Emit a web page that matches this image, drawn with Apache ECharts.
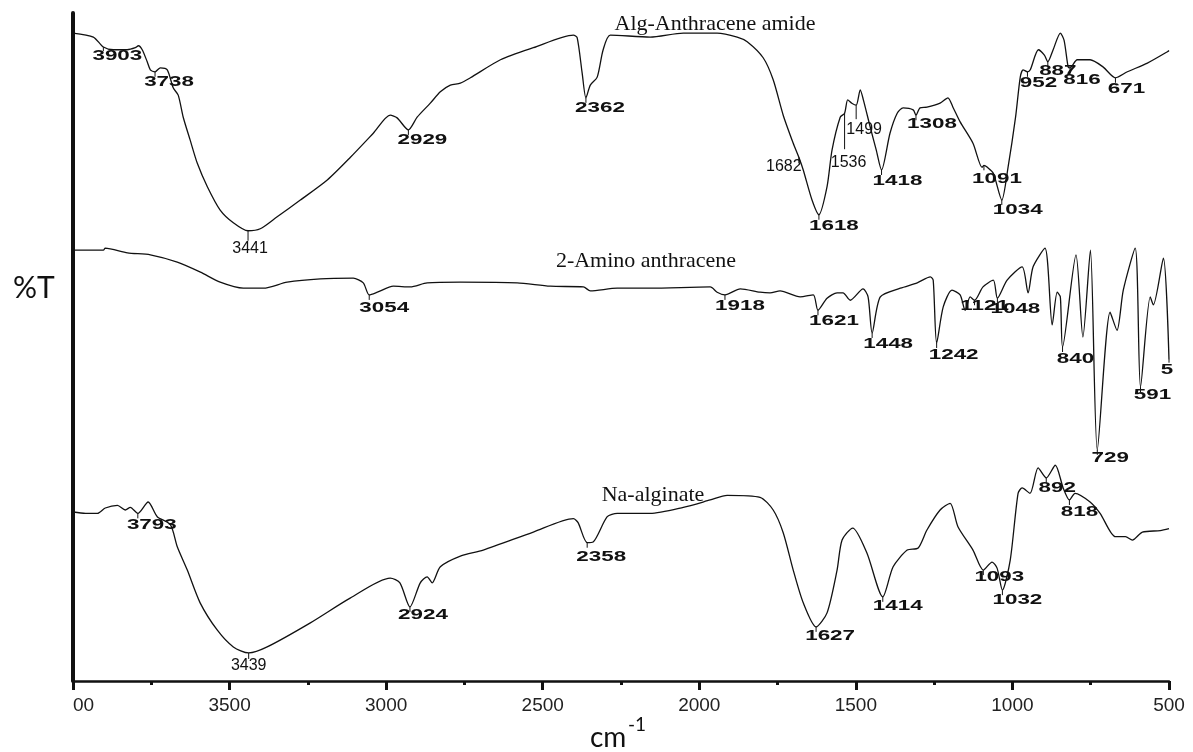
<!DOCTYPE html>
<html>
<head>
<meta charset="utf-8">
<script src="https://cdn.jsdelivr.net/npm/echarts@6/dist/echarts.min.js"></script>
<style>
  html, body { margin: 0; padding: 0; background: #fff; }
  #chart { width: 1193px; height: 752px; }
</style>
</head>
<body>
<div id="chart"></div>
<script>
// FTIR spectra drawn as a stacked plot (%T with vertical offsets), wavenumber in cm-1.

// Alg-Anthracene amide
const amideWavenumber = [4000, 3935, 3903, 3871, 3827, 3801, 3791, 3779, 3763, 3753, 3738, 3721, 3699, 3680, 3664, 3648, 3626, 3603, 3571, 3530, 3488, 3441, 3402, 3348, 3274, 3188, 3114, 3041, 2987, 2965, 2929, 2901, 2859, 2827, 2795, 2763, 2731, 2635, 2530, 2402, 2390, 2374, 2362, 2348, 2326, 2307, 2284, 2157, 2051, 1943, 1879, 1847, 1796, 1764, 1732, 1700, 1682, 1668, 1640, 1618, 1592, 1576, 1550, 1536, 1526, 1513, 1499, 1486, 1476, 1454, 1435, 1418, 1391, 1368, 1349, 1317, 1308, 1295, 1273, 1231, 1206, 1190, 1167, 1126, 1097, 1091, 1080, 1061, 1034, 1014, 990, 975, 966, 952, 943, 917, 898, 887, 870, 847, 835, 822, 816, 793, 752, 710, 671, 633, 569, 505, 500];
const amideTransmittance = [97.0, 96.4, 94.9, 94.5, 94.5, 94.8, 95.1, 94.5, 92.7, 91.5, 91.2, 91.8, 91.5, 88.8, 87.7, 84.4, 81.0, 77.5, 74.0, 70.5, 68.6, 67.4, 67.7, 69.5, 72.0, 75.0, 78.4, 82.0, 84.7, 84.3, 82.5, 84.4, 86.5, 88.2, 89.2, 89.5, 90.3, 93.0, 94.8, 96.7, 96.3, 91.0, 87.3, 89.2, 90.4, 94.5, 96.7, 96.4, 97.0, 97.0, 96.4, 95.7, 93.3, 90.0, 84.7, 80.5, 78.4, 76.5, 72.0, 69.8, 74.0, 79.5, 84.4, 85.0, 87.0, 86.5, 86.2, 88.5, 87.0, 82.9, 79.5, 76.5, 82.0, 85.0, 85.8, 85.5, 84.7, 85.8, 85.9, 86.5, 87.3, 85.9, 83.7, 80.5, 76.9, 77.2, 76.9, 76.0, 72.0, 76.9, 84.4, 90.4, 91.5, 91.2, 91.5, 94.5, 93.7, 92.7, 94.5, 97.0, 95.9, 91.9, 91.8, 93.0, 93.0, 91.9, 90.3, 91.2, 92.5, 94.2, 94.4];
const amidePeaks = [[3903, '3903'], [3738, '3738'], [3441, '3441'], [2929, '2929'], [2362, '2362'], [1682, '1682'], [1618, '1618'], [1536, '1536'], [1499, '1499'], [1418, '1418'], [1308, '1308'], [1091, '1091'], [1034, '1034'], [952, '952'], [887, '887'], [816, '816'], [671, '671']];

// 2-Amino anthracene
const aminoWavenumber = [4000, 3903, 3897, 3826, 3753, 3667, 3593, 3530, 3456, 3392, 3316, 3210, 3105, 3073, 3054, 3028, 2977, 2923, 2869, 2763, 2582, 2476, 2370, 2348, 2262, 2157, 1965, 1943, 1918, 1869, 1806, 1774, 1742, 1678, 1636, 1621, 1592, 1560, 1541, 1518, 1477, 1461, 1448, 1422, 1358, 1304, 1262, 1253, 1242, 1221, 1193, 1167, 1151, 1135, 1121, 1094, 1061, 1048, 1017, 969, 950, 934, 896, 873, 857, 847, 840, 797, 775, 751, 729, 688, 666, 646, 608, 591, 560, 550, 518, 500];
const aminoTransmittance = [64.5, 64.5, 64.8, 64.1, 63.8, 62.7, 61.2, 59.7, 58.8, 58.8, 59.7, 60.2, 60.3, 59.6, 57.8, 58.2, 59.1, 59.0, 59.6, 59.7, 59.6, 59.1, 59.0, 58.4, 58.8, 58.8, 59.0, 58.2, 57.8, 58.7, 58.2, 58.1, 58.4, 57.5, 57.8, 55.5, 57.3, 58.1, 58.1, 57.0, 58.7, 57.5, 52.1, 57.5, 58.8, 59.6, 60.5, 60.0, 50.6, 56.0, 58.5, 57.8, 55.5, 57.5, 57.0, 59.0, 60.0, 57.3, 60.0, 62.0, 58.1, 62.0, 64.8, 53.3, 58.2, 57.5, 50.0, 63.8, 51.5, 64.5, 34.6, 55.2, 52.5, 58.5, 64.8, 44.0, 57.5, 56.3, 63.3, 48.1];
const aminoPeaks = [[3054, '3054'], [1918, '1918'], [1621, '1621'], [1448, '1448'], [1242, '1242'], [1121, '1121'], [1048, '1048'], [840, '840'], [729, '729'], [591, '591'], [500, '5']];

// Na-alginate
const alginateWavenumber = [4000, 3960, 3922, 3897, 3858, 3833, 3817, 3793, 3760, 3731, 3689, 3667, 3635, 3594, 3539, 3488, 3439, 3380, 3242, 3115, 2987, 2956, 2924, 2891, 2869, 2853, 2827, 2763, 2690, 2530, 2402, 2387, 2358, 2339, 2294, 2262, 2157, 2051, 1965, 1911, 1806, 1764, 1732, 1700, 1668, 1627, 1592, 1560, 1544, 1510, 1465, 1414, 1381, 1336, 1301, 1273, 1231, 1199, 1174, 1126, 1093, 1065, 1049, 1032, 1007, 982, 969, 944, 918, 892, 863, 838, 818, 800, 752, 720, 671, 639, 617, 585, 528, 500];
const alginateTransmittance = [25.3, 25.1, 25.1, 25.9, 26.3, 25.6, 26.0, 25.1, 26.8, 24.6, 23.4, 20.1, 16.6, 11.7, 7.6, 5.1, 4.2, 5.1, 8.7, 12.4, 15.4, 14.7, 11.1, 14.7, 15.6, 14.7, 17.1, 18.7, 19.6, 22.3, 24.3, 23.7, 20.7, 20.8, 24.6, 25.1, 25.1, 26.0, 27.1, 27.8, 27.5, 25.6, 22.2, 16.6, 11.7, 8.1, 10.2, 16.6, 21.1, 22.9, 19.2, 12.6, 17.1, 19.6, 19.9, 22.6, 25.6, 26.6, 23.1, 19.6, 16.6, 17.8, 16.9, 13.6, 18.1, 28.1, 28.9, 28.1, 31.9, 30.4, 32.3, 28.9, 27.1, 28.1, 26.8, 25.1, 21.6, 21.6, 21.1, 22.3, 22.5, 22.8];
const alginatePeaks = [[3793, '3793'], [3439, '3439'], [2924, '2924'], [2358, '2358'], [1627, '1627'], [1414, '1414'], [1093, '1093'], [1032, '1032'], [892, '892'], [818, '818']];

// Placement of each peak annotation relative to its point on the curve (px).
const LABEL_DEFAULT = { dx: 14, dy: 10, len: 5, kind: 'bold' };
const amideLabelLayout = {
  3903: { dy: 9, len: 4 }, 3441: { dx: 2, dy: 18, len: 10, kind: 'reg' },
  1682: { dx: -15, dy: 9, len: 6, kind: 'reg' }, 1618: { dx: 15, dy: 11 },
  1536: { dx: 4, dy: 49, len: 36, kind: 'reg' }, 1499: { dx: 8, dy: 24, len: 14, kind: 'reg' },
  1418: { dx: 16, dy: 11 }, 1308: { dx: 16, dy: 9 }, 1091: { dx: 13, dy: 14 },
  1034: { dx: 16 }, 952: { dx: 11, dy: 11 }, 887: { dx: 10, dy: 9 },
  816: { dx: 12, dy: 12 }, 671: { dx: 11, dy: 11 }
};
const aminoLabelLayout = {
  3054: { dx: 15, dy: 13 }, 1918: { dx: 15, dy: 11 }, 1621: { dx: 16, dy: 11 },
  1448: { dx: 16, dy: 11 }, 1242: { dx: 17, dy: 12 }, 1121: { dx: 10, dy: 6 },
  1048: { dx: 18, dy: 11 }, 840: { dx: 13, dy: 12 }, 729: { dx: 13, dy: 8 },
  591: { dx: 12, dy: 8 }, 500: { dx: -2, dy: 10, len: 3 }
};
const alginateLabelLayout = {
  3793: { dy: 12 }, 3439: { dx: 0, dy: 13, len: 6, kind: 'reg' }, 2924: { dx: 13, dy: 8 },
  2358: { dy: 14 }, 1627: { dy: 9 }, 1414: { dx: 15, dy: 9 }, 1093: { dx: 16, dy: 7 },
  1032: { dx: 15 }, 892: { dx: 11 }, 818: { dx: 10, dy: 12 }
};

const INK = '#111';

function zip(xs, ys) { return xs.map((x, i) => [x, ys[i]]); }

function spectrumSeries(name, xs, ys) {
  return {
    name, type: 'line', data: zip(xs, ys), showSymbol: false, symbol: 'none',
    smooth: 0.25,
    lineStyle: { color: INK, width: 1.3 }, silent: true, z: 2
  };
}

function peakSeries(name, xs, ys, peaks, layout) {
  const lookup = new Map(xs.map((x, i) => [x, ys[i]]));
  const data = peaks.map(([wn]) => [wn, lookup.get(wn)]);
  return {
    name, type: 'custom', coordinateSystem: 'cartesian2d', data, silent: true, z: 3,
    encode: { x: 0, y: 1 },
    renderItem(params, api) {
      const [wn, label] = peaks[params.dataIndex];
      const lay = Object.assign({}, LABEL_DEFAULT, layout[wn] || {});
      const p = api.coord([api.value(0), api.value(1)]);
      const bold = lay.kind === 'bold';
      return {
        type: 'group',
        children: [
          { type: 'line', shape: { x1: p[0], y1: p[1], x2: p[0], y2: p[1] + lay.len },
            style: { stroke: INK, lineWidth: 1 } },
          { type: 'text', x: p[0] + lay.dx, y: p[1] + lay.dy, scaleX: bold ? 1.6 : 1,
            style: { text: label, fontFamily: '"Liberation Sans", Arial, sans-serif',
                     fontSize: bold ? 14 : 16, fontWeight: bold ? 'bold' : 'normal', fill: INK,
                     textAlign: 'center', textVerticalAlign: 'middle',
                     align: 'center', verticalAlign: 'middle' } }
        ]
      };
    }
  };
}

const chart = echarts.init(document.getElementById('chart'), null, { renderer: 'canvas' });

const titleFont = { fontFamily: '"Liberation Serif", "Times New Roman", serif', fontSize: 22, fill: INK };

chart.setOption({
  animation: false,
  backgroundColor: '#fff',
  grid: { left: 73, right: 24, top: 13, bottom: 71, containLabel: false, outerBoundsMode: 'none' },
  xAxis: {
    type: 'value', min: 500, max: 4000, interval: 500, inverse: true,
    axisLine: { show: true, onZero: false, lineStyle: { color: INK, width: 2.5 } },
    axisTick: { show: true, length: 9, lineStyle: { color: INK, width: 3 } },
    minorTick: { show: true, splitNumber: 2, length: 4, lineStyle: { color: INK, width: 3 } },
    splitLine: { show: false }, minorSplitLine: { show: false },
    axisLabel: {
      margin: 15, color: '#222', fontSize: 19, fontFamily: '"Liberation Sans", Arial, sans-serif',
      formatter: v => (v === 4000 ? '{cut|00}' : String(v)),
      rich: { cut: { padding: [0, 0, 0, 21], fontSize: 19, color: '#222',
                     fontFamily: '"Liberation Sans", Arial, sans-serif' } }
    }
  },
  yAxis: {
    type: 'value', min: 0, max: 100,
    axisLine: { show: true, onZero: false, lineStyle: { color: INK, width: 4 } },
    axisTick: { show: false }, axisLabel: { show: false }, splitLine: { show: false }
  },
  series: [
    spectrumSeries('Alg-Anthracene amide', amideWavenumber, amideTransmittance),
    spectrumSeries('2-Amino anthracene', aminoWavenumber, aminoTransmittance),
    spectrumSeries('Na-alginate', alginateWavenumber, alginateTransmittance),
    peakSeries('amide peaks', amideWavenumber, amideTransmittance, amidePeaks, amideLabelLayout),
    peakSeries('amino peaks', aminoWavenumber, aminoTransmittance, aminoPeaks, aminoLabelLayout),
    peakSeries('alginate peaks', alginateWavenumber, alginateTransmittance, alginatePeaks, alginateLabelLayout)
  ],
  graphic: [
    { type: 'text', x: 715, y: 24, style: Object.assign({ text: 'Alg-Anthracene amide', textAlign: 'center', textVerticalAlign: 'middle', align: 'center', verticalAlign: 'middle' }, titleFont) },
    { type: 'text', x: 646, y: 261, style: Object.assign({ text: '2-Amino anthracene', textAlign: 'center', textVerticalAlign: 'middle', align: 'center', verticalAlign: 'middle' }, titleFont) },
    { type: 'text', x: 653, y: 495, style: Object.assign({ text: 'Na-alginate', textAlign: 'center', textVerticalAlign: 'middle', align: 'center', verticalAlign: 'middle' }, titleFont) },
    { type: 'text', x: 13, y: 288, style: { text: '%T', fontFamily: 'Lato, "Open Sans", sans-serif', fontSize: 30, fill: INK, textAlign: 'left', textVerticalAlign: 'middle', align: 'left', verticalAlign: 'middle' } },
    { type: 'text', x: 590, y: 738, style: { text: 'cm', fontFamily: 'Lato, "Open Sans", sans-serif', fontSize: 28, fill: INK, textAlign: 'left', textVerticalAlign: 'middle', align: 'left', verticalAlign: 'middle' } },
    { type: 'text', x: 628, y: 725, style: { text: '-1', fontFamily: 'Lato, "Open Sans", sans-serif', fontSize: 19, fill: INK, textAlign: 'left', textVerticalAlign: 'middle', align: 'left', verticalAlign: 'middle' } }
  ]
});
</script>
</body>
</html>
